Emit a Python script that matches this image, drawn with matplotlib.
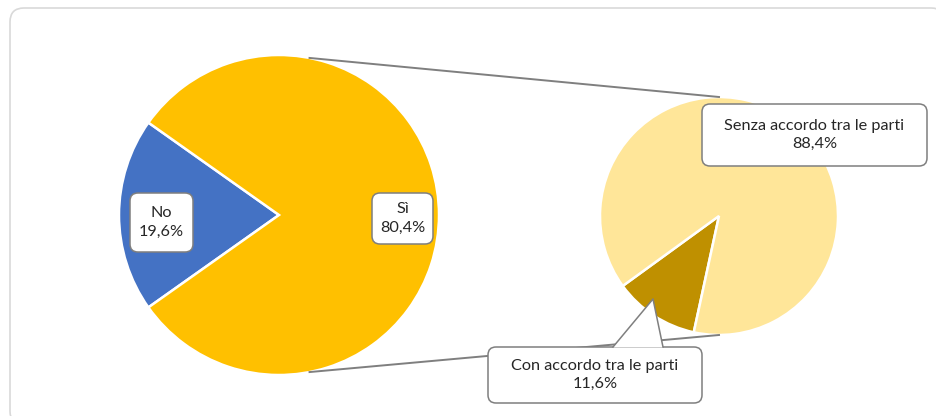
import matplotlib
matplotlib.use("Agg")
import matplotlib.pyplot as plt
import numpy as np
from matplotlib.patches import FancyBboxPatch, Polygon

plt.rcParams['font.family'] = ['Lato', 'DejaVu Sans']

# Data
main_labels = ["No", "Sì"]
main_values = [19.6, 80.4]
sub_labels = ["Con accordo tra le parti", "Senza accordo tra le parti"]
sub_values = [11.6, 88.4]

main_colors = ["#4472C4", "#FFC000"]
sub_colors = ["#BF9000", "#FFE699"]

W, H = 936, 416
fig = plt.figure(figsize=(W / 100, H / 100), dpi=100)
ax = fig.add_axes([0, 0, 1, 1])
ax.set_xlim(0, W)
ax.set_ylim(0, H)
ax.set_aspect('equal')
ax.axis('off')

def Y(y):
    return H - y

# frame
frame = FancyBboxPatch((10, Y(425)), 935, 417, boxstyle="round,pad=0,rounding_size=14",
                       fc="white", ec="#D9D9D9", lw=1.2, clip_on=False, zorder=0)
ax.add_patch(frame)

# main pie
c1 = (279, Y(215)); r1 = 160
no_share = main_values[0] / sum(main_values) * 360
ax.pie(main_values, colors=main_colors, center=c1, radius=r1,
       startangle=180 - no_share / 2, counterclock=True,
       wedgeprops=dict(edgecolor="white", linewidth=1.8), frame=True)

# sub pie
c2 = (719, Y(216)); r2 = 119
ax.pie(sub_values, colors=sub_colors, center=c2, radius=r2,
       startangle=216, counterclock=True,
       wedgeprops=dict(edgecolor="white", linewidth=1.8), frame=True)
ax.set_xlim(0, W)
ax.set_ylim(0, H)
ax.axis('off')

# connector lines
a = np.deg2rad(79)
p_top = (c1[0] + r1 * np.cos(a), c1[1] + r1 * np.sin(a))
p_bot = (c1[0] + r1 * np.cos(-a), c1[1] + r1 * np.sin(-a))
ax.plot([p_top[0], c2[0]], [p_top[1], c2[1] + r2], color="#7F7F7F", lw=1.4, zorder=3)
ax.plot([p_bot[0], c2[0]], [p_bot[1], c2[1] - r2], color="#7F7F7F", lw=1.4, zorder=3)

def label_box(x0, y0, x1, y1, text):
    box = FancyBboxPatch((x0, Y(y1)), x1 - x0, y1 - y0,
                         boxstyle="round,pad=0,rounding_size=8",
                         fc="white", ec="#7F7F7F", lw=1.1, zorder=5)
    ax.add_patch(box)
    ax.text((x0 + x1) / 2, Y((y0 + y1) / 2), text, ha="center", va="center",
            fontsize=11.7, color="#262626", linespacing=1.4, zorder=6)

def fmt(v):
    return f"{v:.1f}".replace(".", ",") + "%"

label_box(130, 193, 193, 252, f"{main_labels[0]}\n{fmt(main_values[0])}")
label_box(372, 193, 433, 244, f"{main_labels[1]}\n{fmt(main_values[1])}")
label_box(702, 104, 927, 166, f"{sub_labels[1]}\n{fmt(sub_values[1])}")
label_box(488, 347, 702, 403, f"{sub_labels[0]}\n{fmt(sub_values[0])}")

# callout pointer for "Con accordo"
tri = Polygon([(613, Y(347.5)), (653, Y(299)), (663, Y(347.5))], closed=True,
              fc="white", ec="none", zorder=6)
ax.add_patch(tri)
ax.plot([613, 653, 663], [Y(347), Y(299), Y(347)], color="#7F7F7F", lw=1.1, zorder=7)

fig.savefig("out.png", dpi=100)
